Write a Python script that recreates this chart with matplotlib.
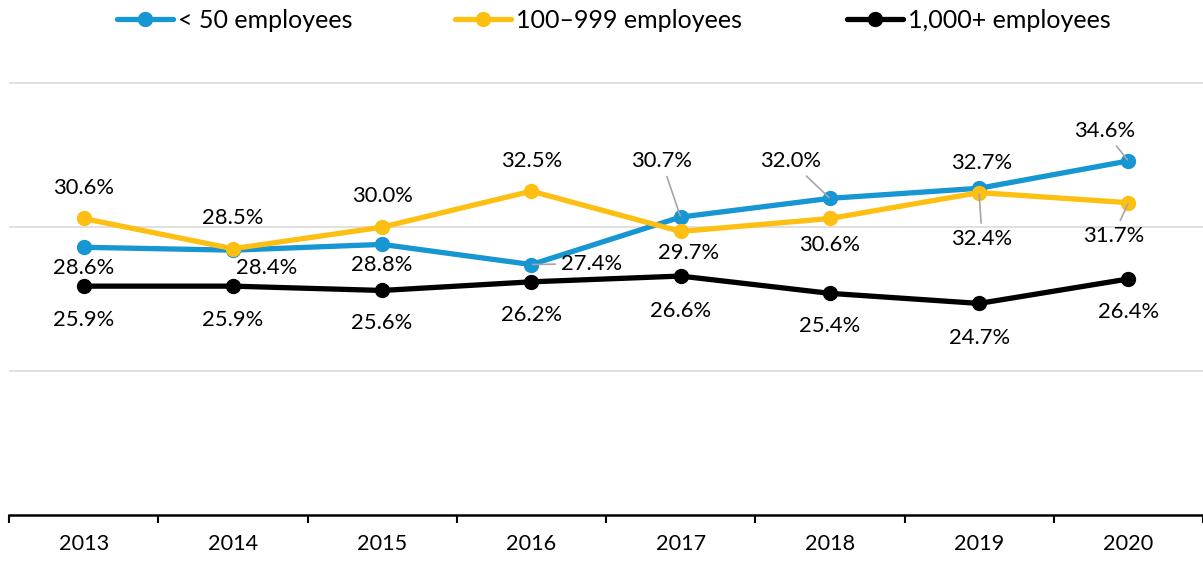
import numpy as np
import matplotlib
matplotlib.use("Agg")
import matplotlib.pyplot as plt
from matplotlib.lines import Line2D

plt.rcParams['font.family'] = ['Lato', 'DejaVu Sans']

years = ["2013", "2014", "2015", "2016", "2017", "2018", "2019", "2020"]
small = [28.6, 28.4, 28.8, 27.4, 30.7, 32.0, 32.7, 34.6]
mid = [30.6, 28.5, 30.0, 32.5, 29.7, 30.6, 32.4, 31.7]
large = [25.9, 25.9, 25.6, 26.2, 26.6, 25.4, 24.7, 26.4]
names = ["< 50 employees", "100\u2013999 employees", "1,000+ employees"]

BLUE = "#1696d2"
YELLOW = "#fdbf11"
BLACK = "#000000"
LEADER = "#a6a6a6"

# label offsets in pixels (dx, dy) and whether a leader line is drawn
small_off = [(0, -21), (34, -18), (0, -21), (60, 1), (-19, 56), (-39, 37), (3, 25), (-24, 30)]
small_lead = [False, False, False, True, True, True, False, True]
mid_off = [(0, 30), (0, 31), (0, 31), (0, 30), (8, -22), (0, -27), (3, -46), (-15, -33)]
mid_lead = [False, False, False, False, False, False, True, True]
large_off = [(0, -34), (0, -34), (0, -33), (0, -33), (0, -35), (0, -33), (0, -35), (0, -33)]

fig = plt.figure(figsize=(12.03, 5.61), dpi=100)
ax = fig.add_axes([9/1203, 0.082, 1 - 9/1203, 0.821])

x = np.arange(len(years))
series = [(small, BLUE, small_off, small_lead),
          (mid, YELLOW, mid_off, mid_lead),
          (large, BLACK, large_off, [False]*8)]

for vals, col, offs, leads in series:
    ax.plot(x, vals, color=col, lw=3.8, marker="o", markersize=10, zorder=3,
            solid_capstyle="round")
    for xi, v, (dx, dy), lead in zip(x, vals, offs, leads):
        kw = {}
        if lead:
            kw["arrowprops"] = dict(arrowstyle="-", color=LEADER, lw=1.2,
                                    shrinkA=2, shrinkB=1)
        ax.annotate(f"{v:.1f}%", (xi, v), xytext=(dx, dy), textcoords="offset pixels",
                    ha="center", va="center", fontsize=15.8, color="#000000", zorder=4, **kw)

ax.set_xlim(-0.5, 7.46)
ax.set_ylim(10, 42)
ax.set_yticks([20, 30, 40])
ax.yaxis.grid(True, color="#dedddd", lw=1.3)
ax.set_axisbelow(True)
ax.tick_params(axis="y", left=False, labelleft=False)

ax.set_xticks(x)
ax.set_xticklabels(years, fontsize=15.6)
ax.set_xticks(np.arange(-0.5, 8, 1), minor=True)
ax.tick_params(axis="x", which="major", length=0, pad=14)
ax.tick_params(axis="x", which="minor", length=6, width=1.5, color="#000000", direction="out")

for s in ["top", "right", "left"]:
    ax.spines[s].set_visible(False)
ax.spines["bottom"].set_linewidth(1.8)

legend_x = [117, 455, 847]
for name, col, lx in zip(names, [BLUE, YELLOW, BLACK], legend_x):
    h = Line2D([], [], color=col, lw=3.8, marker="o", markersize=10, solid_capstyle="round")
    fig.legend([h], [name], loc="center left", bbox_to_anchor=(lx/1203, 1 - 20/561),
               frameon=False, fontsize=18, handlelength=2.24, handletextpad=0.2,
               borderpad=0, borderaxespad=0)

fig.savefig("out.png", dpi=100)
